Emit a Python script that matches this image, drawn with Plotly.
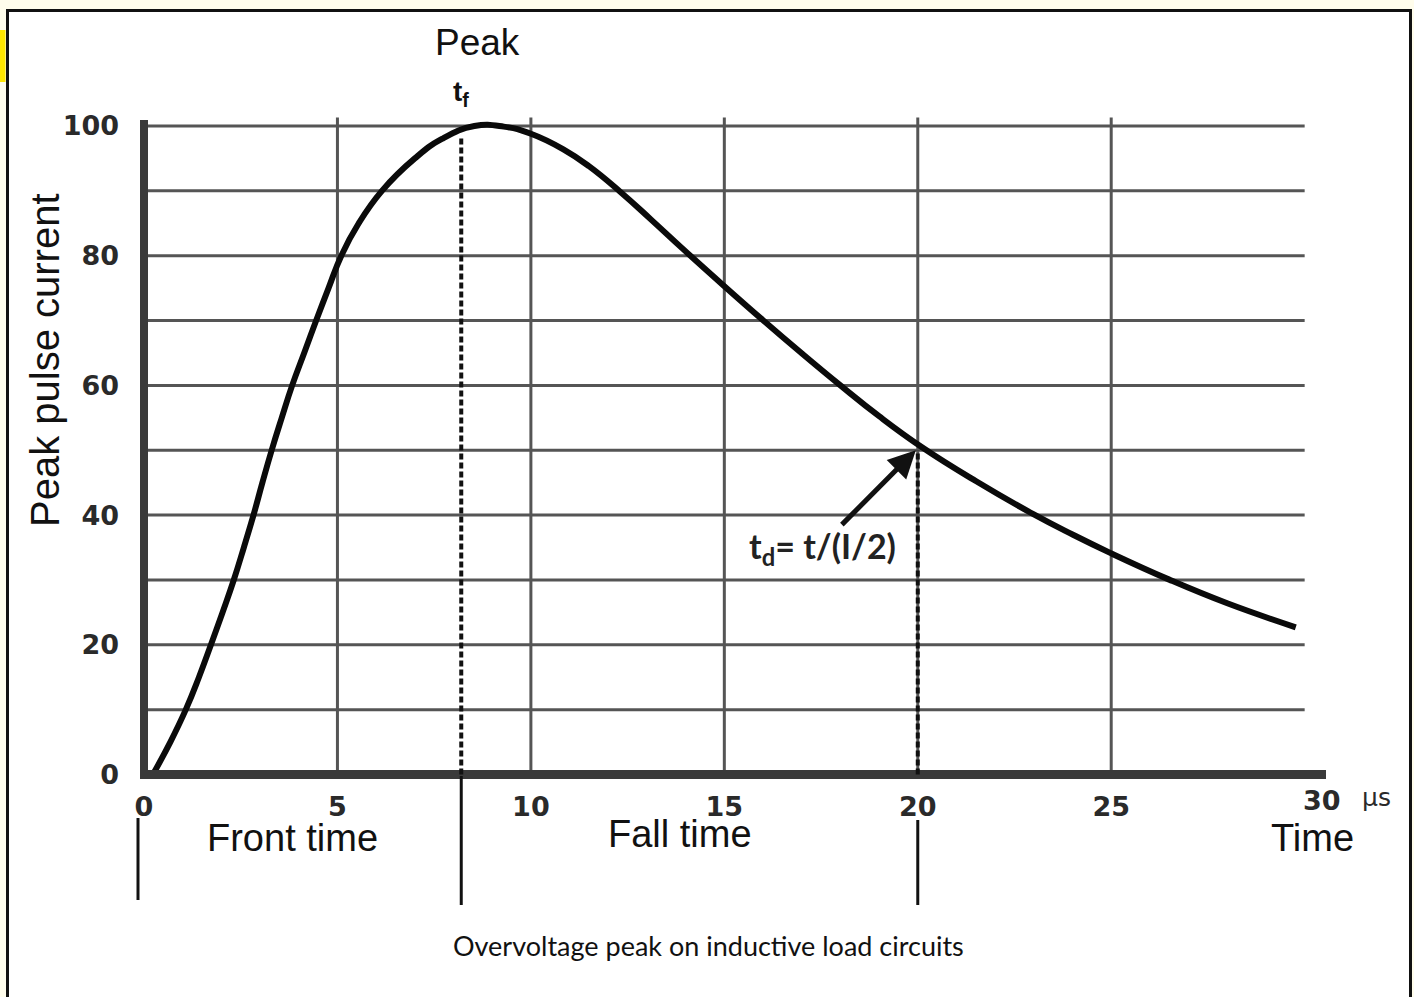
import plotly.graph_objects as go

# ---- data ----
time_us = [0.23, 0.68, 1.08, 1.42, 1.73, 2.03, 2.32, 2.58, 2.83, 3.06, 3.30, 3.56, 3.83,
           4.14, 4.45, 4.77, 5.10, 5.55, 6.15, 7.00, 7.70, 8.54, 9.30, 10.0, 10.84,
           11.5, 12.3, 13.1, 13.9, 15.0, 16.0, 17.0, 18.0, 19.0, 20.1, 21.5, 23.0,
           24.0, 25.0, 26.5, 28.0, 29.77]
current_pct = [0, 5, 10, 15, 20, 25, 30, 35, 40, 45, 50, 55, 60,
               65, 70, 75, 80, 85, 90, 95, 98, 100, 99.9, 98.8, 96.4,
               93.8, 89.9, 85.6, 81.2, 75.3, 70.05, 64.95, 60.0, 55.25, 50.5, 45.25, 40.1,
               37.0, 34.1, 30.05, 26.4, 22.7]
x_ticks = [0, 5, 10, 15, 20, 25]
x_last_tick = 30
y_ticks = [0, 20, 40, 60, 80, 100]
y_grid = [10, 20, 30, 40, 50, 60, 70, 80, 90, 100]
x_grid = [5, 10, 15, 20, 25]
t_front = 8.2      # end of front time (dotted line)
t_half = 20.0      # time at half value
half_value = 50

W, H = 1414, 997
L, R, T, B = 144, 90, 113, 216
XR = [0, 30.5]
YR = [-1, 102]
pw, ph = W - L - R, H - T - B

def px(xp):  # pixel -> paper x
    return (xp - L) / pw

def py(yp):  # pixel -> paper y
    return (H - B - yp) / ph

def dx(t):   # data -> pixel x
    return L + (t - XR[0]) / (XR[1] - XR[0]) * pw

fig = go.Figure()

shapes = []
grid_col = "#555555"
for g in y_grid:
    shapes.append(dict(type="line", xref="x", yref="y", x0=0, x1=30, y0=g, y1=g,
                       line=dict(color=grid_col, width=3), layer="below"))
for g in x_grid:
    shapes.append(dict(type="line", xref="x", yref="y", x0=g, x1=g, y0=0, y1=101.3,
                       line=dict(color=grid_col, width=3), layer="below"))
# thick axes
shapes.append(dict(type="line", xref="paper", yref="y", x0=px(140), x1=px(1326), y0=0, y1=0,
                   line=dict(color="#3a3a3a", width=9)))
shapes.append(dict(type="line", xref="paper", yref="paper", x0=0, x1=0, y0=py(779), y1=py(120),
                   line=dict(color="#3a3a3a", width=8)))
# dotted markers
shapes.append(dict(type="line", xref="x", yref="y", x0=t_front, x1=t_front, y0=0, y1=98.5,
                   line=dict(color="#111111", width=4, dash="6px,3px")))
shapes.append(dict(type="line", xref="x", yref="y", x0=t_half, x1=t_half, y0=0, y1=half_value,
                   line=dict(color="#111111", width=4, dash="6px,3px")))
# lower vertical separators
for xp, y0p, y1p in [(138, 818, 900), (dx(t_front), 776, 905), (dx(t_half), 820, 905)]:
    shapes.append(dict(type="line", xref="paper", yref="paper", x0=px(xp), x1=px(xp),
                       y0=py(y0p), y1=py(y1p), line=dict(color="#111111", width=3)))
# frame and yellow tab
shapes.append(dict(type="rect", xref="paper", yref="paper", x0=px(7.5), x1=px(1410.5),
                   y0=py(1010), y1=py(10.5), line=dict(color="#111111", width=3),
                   fillcolor="white", layer="below"))
shapes.append(dict(type="rect", xref="paper", yref="paper", x0=px(0), x1=px(5.5),
                   y0=py(82), y1=py(30), line=dict(width=0), fillcolor="#ffe600", layer="below"))

fig.add_trace(go.Scatter(x=time_us, y=current_pct, mode="lines",
                         line=dict(color="#0a0a0a", width=6, shape="spline", smoothing=1.3),
                         cliponaxis=False, hoverinfo="skip", showlegend=False))

ann = []
tick_font = dict(family="DejaVu Sans", size=27, color="#2a2a2a")
ann.append(dict(xref="x", yref="paper", x=x_last_tick + 0.45, y=py(800), showarrow=False,
                text="<b>%d</b>" % x_last_tick, font=tick_font, xanchor="center", yanchor="middle"))
ann.append(dict(xref="paper", yref="paper", x=px(1376), y=py(797), showarrow=False,
                text="µs", font=dict(family="DejaVu Sans", size=25, color="#2a2a2a"),
                xanchor="center", yanchor="middle"))
lab_font = dict(family="Liberation Sans", size=38, color="#111111")
ann.append(dict(xref="paper", yref="paper", x=px(292), y=py(838), text="Front time",
                showarrow=False, font=lab_font, xanchor="center", yanchor="middle"))
ann.append(dict(xref="paper", yref="paper", x=px(680), y=py(834), text="Fall time",
                showarrow=False, font=lab_font, xanchor="center", yanchor="middle"))
ann.append(dict(xref="paper", yref="paper", x=px(1312), y=py(838), text="Time",
                showarrow=False, font=lab_font, xanchor="center", yanchor="middle"))
ann.append(dict(xref="paper", yref="paper", x=px(477), y=py(42), text="Peak",
                showarrow=False, font=dict(family="Liberation Sans", size=37, color="#111111"),
                xanchor="center", yanchor="middle"))
ann.append(dict(xref="x", yref="paper", x=t_front, y=py(93), text="<b>t<sub>f</sub></b>",
                showarrow=False, font=dict(family="Liberation Sans", size=28, color="#111111"),
                xanchor="center", yanchor="middle"))
ann.append(dict(xref="paper", yref="paper", x=px(45), y=py(360), text="Peak pulse current",
                textangle=-90, showarrow=False,
                font=dict(family="Liberation Sans", size=40, color="#111111"),
                xanchor="center", yanchor="middle"))
ann.append(dict(xref="x", yref="y", x=17.55, y=34.9, text="<b>t<sub>d</sub>= t/(I/2)</b>",
                showarrow=False, font=dict(family="Lato", size=34, color="#222222"),
                xanchor="center", yanchor="middle"))
ann.append(dict(xref="x", yref="y", x=t_half - 0.05, y=half_value, axref="x", ayref="y",
                ax=18.0, ay=38.3, text="", showarrow=True, arrowhead=2, arrowsize=1.1,
                arrowwidth=5, arrowcolor="#111111"))
ann.append(dict(xref="paper", yref="paper", x=px(708), y=py(945),
                text="Overvoltage peak on inductive load circuits", showarrow=False,
                font=dict(family="Lato", size=27, color="#111111"),
                xanchor="center", yanchor="middle"))

fig.update_layout(
    width=W, height=H,
    margin=dict(l=L, r=R, t=T, b=B, pad=0),
    paper_bgcolor="#fffdec", plot_bgcolor="rgba(0,0,0,0)",
    shapes=shapes, annotations=ann, showlegend=False,
    xaxis=dict(range=XR, showgrid=False, zeroline=False, showline=False,
               tickvals=x_ticks, ticktext=["<b>%d</b>" % v for v in x_ticks],
               tickfont=tick_font, ticks="", ticklabelstandoff=7, fixedrange=True),
    yaxis=dict(range=YR, showgrid=False, zeroline=False, showline=False,
               tickvals=y_ticks, ticktext=["<b>%d</b>" % v for v in y_ticks],
               tickfont=tick_font, ticks="", ticklabelstandoff=24, fixedrange=True),
)

fig.write_html("out.html", config={"displayModeBar": False},
               post_script="document.body.style.margin='0';document.body.style.overflow='hidden';")
